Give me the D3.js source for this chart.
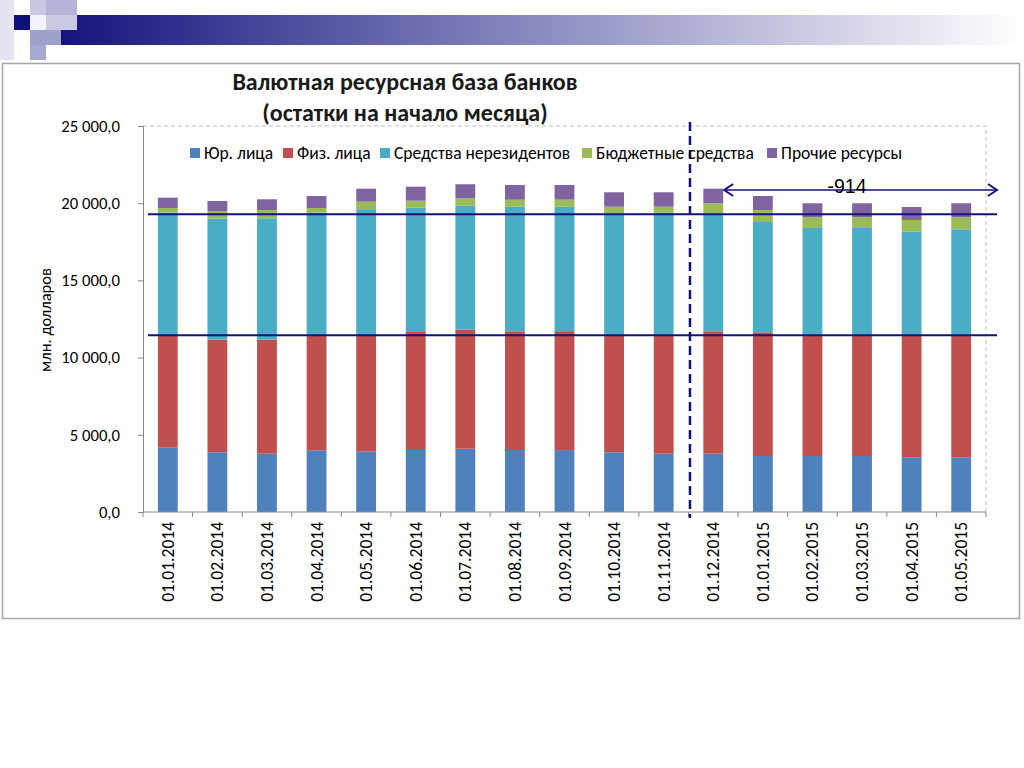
<!DOCTYPE html>
<html><head><meta charset="utf-8">
<script src="https://cdn.jsdelivr.net/npm/d3@7"></script>
<style>
html,body{margin:0;padding:0;background:#fff;}
svg{display:block;}
</style></head>
<body>
<svg id="c" width="1024" height="768"></svg>
<script>
// ---- data ----
const dates = ["01.01.2014","01.02.2014","01.03.2014","01.04.2014","01.05.2014","01.06.2014","01.07.2014","01.08.2014","01.09.2014","01.10.2014","01.11.2014","01.12.2014","01.01.2015","01.02.2015","01.03.2015","01.04.2015","01.05.2015"];
const seriesNames = ["Юр. лица","Физ. лица","Средства нерезидентов","Бюджетные средства","Прочие ресурсы"];
const yurLitsa   = [4165,3866,3776,3996,3906,4016,4100,4016,4010,3866,3776,3776,3627,3627,3627,3543,3543];
const fizLitsa   = [7235,7294,7384,7468,7558,7643,7708,7688,7700,7618,7708,7928,8012,7857,7857,7941,7941];
const nerezident = [7998,7837,7863,7921,8096,8050,8031,8070,8060,7863,7890,7643,7144,6910,6910,6671,6826];
const byudzhet   = [292,499,537,305,538,454,479,454,460,427,400,648,777,694,694,758,778];
const prochie    = [667,647,694,777,842,907,908,952,950,933,933,945,907,907,907,842,907];
const yTicks = [0,5000,10000,15000,20000,25000];
const refLines = [19280,11444];
const dividerBefore = "01.12.2014";
const arrowLabel = "-914";
const colors = ["#4F81BD","#C0504D","#4BACC6","#9BBB59","#8064A2"];

const svg = d3.select("#c");
const font = "Calibri, Carlito, 'Open Sans', sans-serif";

// ---- decorative header ----
const defs = svg.append("defs");
const grad = defs.append("linearGradient").attr("id","hg").attr("x1","0").attr("x2","1").attr("y1","0").attr("y2","0");
grad.append("stop").attr("offset","0").attr("stop-color","#10107a");
grad.append("stop").attr("offset","0.5").attr("stop-color","#8a8ac0");
grad.append("stop").attr("offset","1").attr("stop-color","#ffffff");
svg.append("rect").attr("x",46).attr("y",15).attr("width",978).attr("height",30).attr("fill","url(#hg)");
const sq = [[0,0,14,60,"#e4e4f2"],[30,0,16,15,"#c8c8e2"],[46,0,31,15,"#b4b4d8"],[46,15,31,15,"#c9c9e4"],[14,15,16,15,"#10107a"],[30,15,16,15,"#f2f2f8"],[30,30,31,15,"#a0a0cc"],[30,45,16,15,"#a8a8d0"]];
sq.forEach(s=>svg.append("rect").attr("x",s[0]).attr("y",s[1]).attr("width",s[2]).attr("height",s[3]).attr("fill",s[4]));

// ---- outer frame ----
svg.append("rect").attr("x",2.5).attr("y",63.5).attr("width",1017).attr("height",555).attr("fill","#fff").attr("stroke","#a6a6a6").attr("stroke-width",1.5);

// ---- title ----
svg.append("text").attr("x",405).attr("y",90).attr("text-anchor","middle").attr("font-family",font).attr("font-weight","bold").attr("font-size",24).attr("fill","#1a1a1a").text("Валютная ресурсная база банков");
svg.append("text").attr("x",405).attr("y",121).attr("text-anchor","middle").attr("font-family",font).attr("font-weight","bold").attr("font-size",24).attr("fill","#1a1a1a").text("(остатки на начало месяца)");

// ---- scales ----
const pLeft=143, pRight=986, pTop=126, pBottom=512;
const x = d3.scaleBand().domain(dates).range([pLeft,pRight]).paddingInner(0.6).paddingOuter(0.3);
const y = d3.scaleLinear().domain([0,25000]).range([pBottom,pTop]);

const rows = dates.map((d,i)=>({date:d, s0:yurLitsa[i], s1:fizLitsa[i], s2:nerezident[i], s3:byudzhet[i], s4:prochie[i]}));
const stack = d3.stack().keys(["s0","s1","s2","s3","s4"])(rows);

// plot border (dashed top & right)
svg.append("path").attr("d",`M${pLeft},${pTop}H${pRight}V${pBottom}`).attr("fill","none").attr("stroke","#bfbfbf").attr("stroke-dasharray","4,3").attr("stroke-width",1);

// bars
stack.forEach((layer,k)=>{
  svg.append("g").selectAll("rect").data(layer).join("rect")
    .attr("x",d=>x(d.data.date)).attr("width",x.bandwidth())
    .attr("y",d=>y(d[1])).attr("height",d=>y(d[0])-y(d[1]))
    .attr("fill",colors[k]);
});

// y axis
const ya = svg.append("g").attr("transform",`translate(${pLeft},0)`)
  .call(d3.axisLeft(y).tickValues(yTicks).tickSize(5).tickPadding(18)
    .tickFormat(v=>d3.format(",.1f")(v).replace(/,/g," ").replace(".",",")));
ya.select(".domain").attr("stroke","#868686");
ya.selectAll(".tick line").attr("stroke","#868686");
ya.selectAll("text").attr("font-family",font).attr("font-size",16.7).attr("fill","#000");

// x axis
const step = x.step();
const xa = svg.append("g").attr("transform",`translate(0,${pBottom})`);
xa.append("line").attr("x1",pLeft).attr("x2",pRight).attr("stroke","#868686");
const bounds = dates.map(d=>x(d)-step*x.paddingInner()/2).concat([pRight]);
xa.selectAll("line.t").data(bounds).join("line").attr("class","t").attr("x1",d=>d).attr("x2",d=>d).attr("y1",0).attr("y2",5).attr("stroke","#868686");
xa.selectAll("text").data(dates).join("text")
  .attr("transform",d=>`translate(${x(d)+x.bandwidth()/2+6},10) rotate(-90)`)
  .attr("text-anchor","end").attr("font-family",font).attr("font-size",17.5).attr("fill","#000").text(d=>d);

// y title
svg.append("text").attr("transform","translate(51,320) rotate(-90)").attr("text-anchor","middle").attr("font-family",font).attr("font-size",16.5).attr("fill","#000").text("млн. долларов");

// reference lines
svg.selectAll("line.ref").data(refLines).join("line").attr("class","ref")
  .attr("x1",148).attr("x2",997).attr("y1",d=>y(d)).attr("y2",d=>y(d))
  .attr("stroke","#12127a").attr("stroke-width",2);

// divider
const dx = x(dividerBefore)-step*x.paddingInner()/2+1.5;
svg.append("line").attr("x1",dx).attr("x2",dx).attr("y1",122).attr("y2",518).attr("stroke","#12127a").attr("stroke-width",2.5).attr("stroke-dasharray","9,5");

// legend
const legX = [190,283,380,582,767];
const lg = svg.append("g");
seriesNames.forEach((n,i)=>{
  lg.append("rect").attr("x",legX[i]).attr("y",148).attr("width",10).attr("height",10).attr("fill",colors[i]);
  lg.append("text").attr("x",legX[i]+14).attr("y",159).attr("font-family",font).attr("font-size",17.5).attr("fill","#000").text(n);
});

// arrow annotation
const ax1 = x(dividerBefore)+x.bandwidth()+1, ax2 = 997, ay = 190;
svg.append("line").attr("x1",ax1).attr("x2",ax2).attr("y1",ay).attr("y2",ay).attr("stroke","#12127a").attr("stroke-width",1.5);
svg.append("path").attr("d",`M${ax1+9},${ay-6}L${ax1},${ay}L${ax1+9},${ay+6}`).attr("fill","none").attr("stroke","#12127a").attr("stroke-width",2);
svg.append("path").attr("d",`M${ax2-9},${ay-6}L${ax2},${ay}L${ax2-9},${ay+6}`).attr("fill","none").attr("stroke","#12127a").attr("stroke-width",2);
svg.append("text").attr("x",847).attr("y",193).attr("text-anchor","middle").attr("font-family","Arial, 'Liberation Sans', sans-serif").attr("font-size",19.5).attr("fill","#000").text(arrowLabel);
</script>
</body></html>
